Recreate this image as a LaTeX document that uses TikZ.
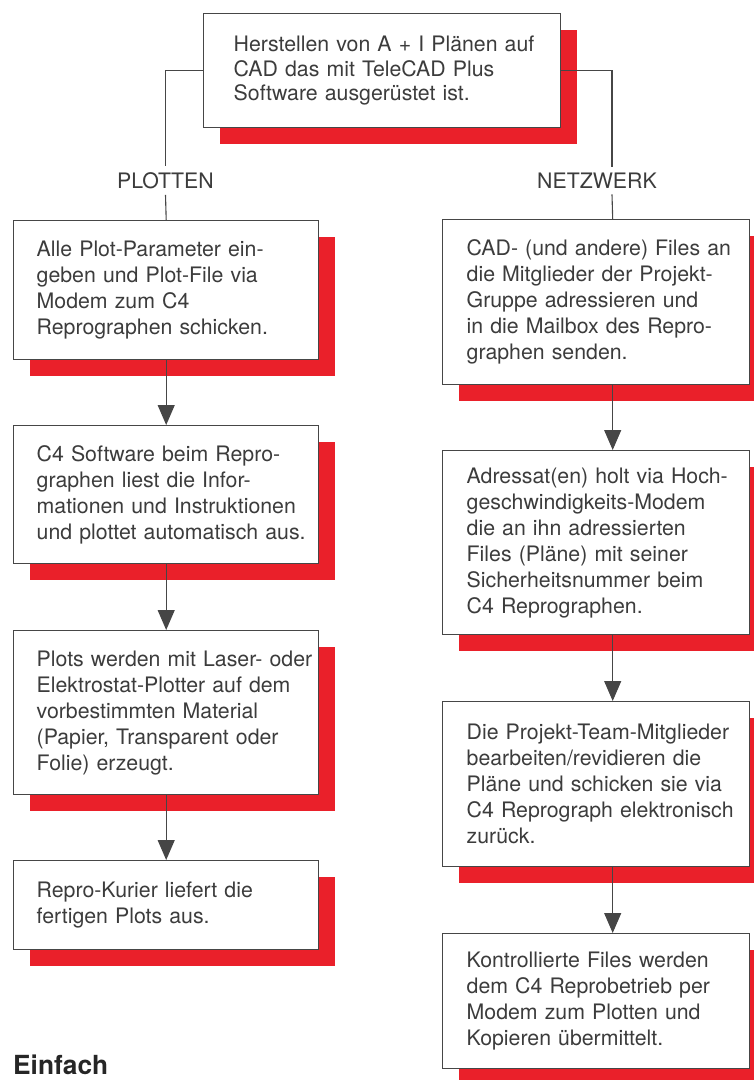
\documentclass[tikz,border=0pt]{standalone}
\usepackage{fontspec}
\setmainfont{TeX Gyre Heros}
\usetikzlibrary{arrows.meta, shadows}

\definecolor{linegray}{RGB}{70,70,70}
\definecolor{textgray}{RGB}{60,60,60}
\definecolor{shadowred}{RGB}{234,32,42}

\newcommand{\boxfont}{\fontsize{21.3pt}{26pt}\selectfont}
\newcommand{\topfont}{\fontsize{21.3pt}{24.5pt}\selectfont}

\tikzset{
  stepbox/.style={draw=linegray, line width=1.4pt, fill=white, text=textgray,
    inner xsep=0pt, inner ysep=0pt, align=left, anchor=north west, font=\boxfont,
    drop shadow={shadow xshift=16pt, shadow yshift=-16pt, fill=shadowred, opacity=1}},
  leftbox/.style={stepbox, text width=305pt, execute at begin node={\leftskip=23pt}},
  rightbox/.style={stepbox, text width=307pt, execute at begin node={\leftskip=24pt}},
  branch/.style={fill=white, text=textgray, font=\boxfont, inner xsep=2pt, inner ysep=6pt},
  link/.style={draw=linegray, line width=1.1pt},
  flow/.style={link, -{Triangle[length=20pt,width=17pt]}}
}

\begin{document}
\begin{tikzpicture}[x=1pt, y=-1pt]
\useasboundingbox (0,0) rectangle (754,1080);

% Kopf
\node[stepbox, font=\topfont, text width=357pt, minimum height=114pt,
      execute at begin node={\leftskip=30pt}] (top) at (203,13)
  {Herstellen von A + I Plänen auf\\CAD das mit TeleCAD Plus\\Software ausgerüstet ist.};

% Zweige
\node[branch] (plot) at (165.5,180.5) {PLOTTEN};
\node[branch] (net) at (597,180.5) {NETZWERK};

% linke Spalte
\node[leftbox, minimum height=139pt] (l1) at (13,220)
  {Alle Plot-Parameter ein-\\geben und Plot-File via\\Modem zum C4\\Reprographen schicken.};
\node[leftbox, minimum height=138pt] (l2) at (13,425)
  {C4 Software beim Repro-\\graphen liest die Infor-\\mationen und Instruktionen\\und plottet automatisch aus.};
\node[leftbox, minimum height=164pt] (l3) at (13,630)
  {Plots werden mit Laser- oder\\Elektrostat-Plotter auf dem\\vorbestimmten Material\\(Papier, Transparent oder\\Folie) erzeugt.};
\node[leftbox, minimum height=89pt] (l4) at (13,860)
  {Repro-Kurier liefert die\\fertigen Plots aus.};

% rechte Spalte
\node[rightbox, minimum height=165pt] (r1) at (442,219)
  {CAD- (und andere) Files an\\die Mitglieder der Projekt-\\Gruppe adressieren und\\in die Mailbox des Repro-\\graphen senden.};
\node[rightbox, minimum height=184pt] (r2) at (442,450)
  {Adressat(en) holt via Hoch-\\geschwindigkeits-Modem\\die an ihn adressierten\\Files (Pläne) mit seiner\\Sicherheitsnummer beim\\C4 Reprographen.};
\node[rightbox, minimum height=165pt] (r3) at (442,701)
  {Die Projekt-Team-Mitglieder\\bearbeiten/revidieren die\\Pläne und schicken sie via\\C4 Reprograph elektronisch\\zurück.};
\node[rightbox, minimum height=135pt] (r4) at (442,933)
  {Kontrollierte Files werden\\dem C4 Reprobetrieb per\\Modem zum Plotten und\\Kopieren übermittelt.};

% Verbindungen
\draw[link] (top.west) -| (plot.north);
\draw[link] (plot.south) -- (l1.north);
\draw[link] (top.east) -| ([xshift=15pt]net.north);
\draw[link] ([xshift=15pt]net.south) -- ([xshift=16.5pt]r1.north);

\draw[flow] (l1.south) -- (l2.north);
\draw[flow] (l2.south) -- (l3.north);
\draw[flow] (l3.south) -- (l4.north);
\draw[flow] ([xshift=16.5pt]r1.south) -- ([xshift=16.5pt]r2.north);
\draw[flow] ([xshift=16.5pt]r2.south) -- ([xshift=16.5pt]r3.north);
\draw[flow] ([xshift=16.5pt]r3.south) -- ([xshift=16.5pt]r4.north);

% Titel unten
\node[anchor=base west, inner sep=0pt, text=black!85,
      font=\bfseries\fontsize{26.3pt}{30pt}\selectfont] (einfach) at (13,1074) {Einfach};
\end{tikzpicture}
\end{document}
